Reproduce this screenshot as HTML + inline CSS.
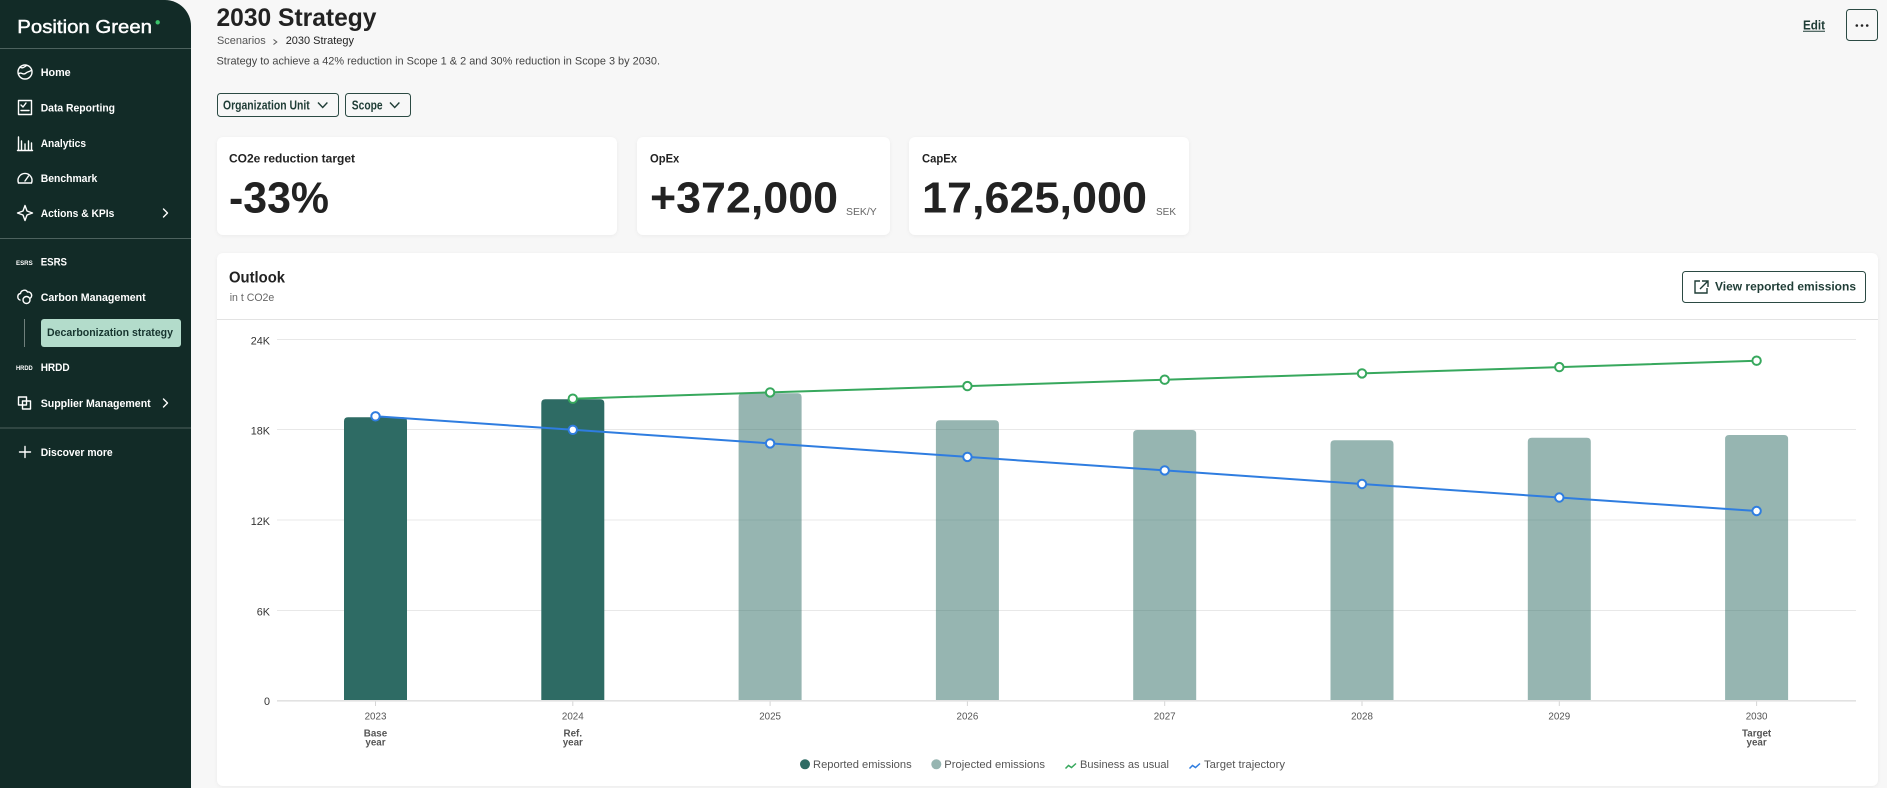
<!DOCTYPE html>
<html><head><meta charset="utf-8">
<style>
html,body{margin:0;padding:0;}
body{width:1887px;height:788px;overflow:hidden;background:#f7f7f7;position:relative;font-family:"Liberation Sans",Arial,sans-serif;}
.sb{position:absolute;left:0;top:0;width:191px;height:788px;background:#122b27;border-top-right-radius:26px;}
.card{position:absolute;background:#fff;border-radius:6px;box-shadow:0 1px 4px rgba(0,0,0,0.05);}
svg{position:absolute;left:0;top:0;}
text{font-family:"Liberation Sans",Arial,sans-serif;}
</style></head>
<body>
<div class="sb"></div>
<div class="card" style="left:217px;top:137px;width:400px;height:98px"></div>
<div class="card" style="left:637px;top:137px;width:253px;height:98px"></div>
<div class="card" style="left:909px;top:137px;width:280px;height:98px"></div>
<div class="card" style="left:217px;top:253px;width:1661px;height:533px"></div>

<svg width="1887" height="788" viewBox="0 0 1887 788" xmlns="http://www.w3.org/2000/svg">
<!-- ===== Sidebar ===== -->
<text x="17.3" y="33" font-size="18.5" fill="#fff" stroke="#fff" stroke-width="0.45" textLength="134.7" lengthAdjust="spacingAndGlyphs">Position Green</text>
<circle cx="157.7" cy="22.3" r="2.2" fill="#3cc36b"/>
<line x1="0" y1="48.5" x2="191" y2="48.5" stroke="#4d625e" stroke-width="1"/>
<line x1="0" y1="238.5" x2="191" y2="238.5" stroke="#4d625e" stroke-width="1"/>
<line x1="0" y1="428" x2="191" y2="428" stroke="#4d625e" stroke-width="1"/>

<g fill="none" stroke="#fff" stroke-width="1.4" stroke-linecap="round" stroke-linejoin="round">
  <!-- home globe -->
  <circle cx="25" cy="72" r="7"/>
  <path d="M18.5,74 C21,71 23,76 26,73 C28,71 30,72 31.5,70"/>
  <path d="M20,67 C22,69 24,67 26,66"/>
  <!-- data reporting -->
  <rect x="18.5" y="100.5" width="13" height="14"/>
  <path d="M21,105 L23,107 L26,103"/>
  <path d="M21,110.5 H29"/>
  <!-- analytics -->
  <path d="M18.5,137 V150 M21.5,141 V150 M25,144 V150 M28.5,141 V150 M31.5,143 V150 M17.5,150.5 H32.5"/>
  <!-- benchmark gauge -->
  <path d="M18.5,183 A7,7 0 1 1 31.5,183"/>
  <path d="M18.5,183 H31.5"/>
  <path d="M25,181 L28.5,176"/>
  <!-- actions star -->
  <path d="M25,205.5 L27,211 L32.5,213 L27,215 L25,220.5 L23,215 L17.5,213 L23,211 Z"/>
  <!-- carbon cloud -->
  <path d="M20,300 C17,299 17,294 20.5,293.5 C21,290 26,289 27.5,292 C31,291.5 33,295.5 30.5,298"/>
  <circle cx="26.5" cy="300" r="3.5"/>
  <!-- supplier squares -->
  <rect x="18.5" y="397" width="8" height="8"/>
  <rect x="22.5" y="401" width="8" height="8"/>
  <!-- discover plus -->
  <path d="M25,446.5 V457.5 M19.5,452 H30.5"/>
  <!-- chevrons -->
  <path d="M163.5,209 L167.5,213 L163.5,217"/>
  <path d="M163.5,399 L167.5,403 L163.5,407"/>
</g>
<text x="16" y="265" font-size="6.5" font-weight="bold" fill="#fff" textLength="16.7" lengthAdjust="spacingAndGlyphs">ESRS</text>
<text x="16" y="370" font-size="6.5" font-weight="bold" fill="#fff" textLength="16.7" lengthAdjust="spacingAndGlyphs">HRDD</text>

<g font-size="11.2" font-weight="bold" fill="#fff">
  <text x="40.7" y="76" textLength="30" lengthAdjust="spacingAndGlyphs">Home</text>
  <text x="40.7" y="111.3" textLength="74.3" lengthAdjust="spacingAndGlyphs">Data Reporting</text>
  <text x="40.7" y="146.8" textLength="45.3" lengthAdjust="spacingAndGlyphs">Analytics</text>
  <text x="40.7" y="182" textLength="56.6" lengthAdjust="spacingAndGlyphs">Benchmark</text>
  <text x="40.7" y="217" textLength="73.6" lengthAdjust="spacingAndGlyphs">Actions &amp; KPIs</text>
  <text x="40.7" y="265.7" textLength="26.3" lengthAdjust="spacingAndGlyphs">ESRS</text>
  <text x="40.7" y="301" textLength="105" lengthAdjust="spacingAndGlyphs">Carbon Management</text>
  <text x="40.7" y="371" textLength="29" lengthAdjust="spacingAndGlyphs">HRDD</text>
  <text x="40.7" y="407" textLength="110" lengthAdjust="spacingAndGlyphs">Supplier Management</text>
  <text x="40.7" y="456" textLength="72" lengthAdjust="spacingAndGlyphs">Discover more</text>
</g>
<line x1="24.5" y1="319" x2="24.5" y2="347" stroke="#6f807c" stroke-width="1"/>
<rect x="41" y="319" width="140" height="28" rx="3" fill="#b3dccb"/>
<text x="47" y="336" font-size="11.2" font-weight="bold" fill="#17352f" textLength="126" lengthAdjust="spacingAndGlyphs">Decarbonization strategy</text>

<!-- ===== Header ===== -->
<text x="216.5" y="26" font-size="25" font-weight="bold" fill="#222" textLength="160" lengthAdjust="spacingAndGlyphs">2030 Strategy</text>
<text x="217" y="44" font-size="11" fill="#555" textLength="48.7" lengthAdjust="spacingAndGlyphs">Scenarios</text>
<path d="M273.5,39.5 L276.8,42 L273.5,44.5" fill="none" stroke="#555" stroke-width="1"/>
<text x="285.7" y="44" font-size="11" fill="#222" textLength="68.3" lengthAdjust="spacingAndGlyphs">2030 Strategy</text>
<text x="216.5" y="64.3" font-size="11" fill="#444" textLength="443.5" lengthAdjust="spacingAndGlyphs">Strategy to achieve a 42% reduction in Scope 1 &amp; 2 and 30% reduction in Scope 3 by 2030.</text>

<text x="1803" y="29.3" font-size="12.5" font-weight="bold" fill="#1f3d36" textLength="22" lengthAdjust="spacingAndGlyphs">Edit</text>
<line x1="1803" y1="31.3" x2="1825" y2="31.3" stroke="#1f3d36" stroke-width="1"/>
<rect x="1846.5" y="9.5" width="31" height="31" rx="3" fill="none" stroke="#2b4a43" stroke-width="1"/>
<circle cx="1856.8" cy="25.5" r="1.3" fill="#222"/>
<circle cx="1862" cy="25.5" r="1.3" fill="#222"/>
<circle cx="1867.2" cy="25.5" r="1.3" fill="#222"/>

<!-- filters -->
<rect x="217.5" y="93.5" width="121" height="23" rx="3" fill="none" stroke="#2b4a43" stroke-width="1"/>
<text x="223" y="109.5" font-size="12.5" font-weight="bold" fill="#1f3d36" textLength="86.7" lengthAdjust="spacingAndGlyphs">Organization Unit</text>
<path d="M318,102.5 L322.7,107.5 L327.4,102.5" fill="none" stroke="#1f3d36" stroke-width="1.4"/>
<rect x="345.5" y="93.5" width="65" height="23" rx="3" fill="none" stroke="#2b4a43" stroke-width="1"/>
<text x="351.8" y="109.5" font-size="12.5" font-weight="bold" fill="#1f3d36" textLength="30.8" lengthAdjust="spacingAndGlyphs">Scope</text>
<path d="M390,102.5 L394.7,107.5 L399.4,102.5" fill="none" stroke="#1f3d36" stroke-width="1.4"/>

<!-- KPI cards -->
<text x="229" y="162.7" font-size="12" font-weight="bold" fill="#222" textLength="126" lengthAdjust="spacingAndGlyphs">CO2e reduction target</text>
<text x="229" y="212.7" font-size="44" font-weight="bold" fill="#222" textLength="100" lengthAdjust="spacingAndGlyphs">-33%</text>
<text x="650" y="162.7" font-size="12" font-weight="bold" fill="#222" textLength="29.3" lengthAdjust="spacingAndGlyphs">OpEx</text>
<text x="650" y="212.7" font-size="44" font-weight="bold" fill="#222" textLength="188" lengthAdjust="spacingAndGlyphs">+372,000</text>
<text x="846" y="215" font-size="10" fill="#666" textLength="30.7" lengthAdjust="spacingAndGlyphs">SEK/Y</text>
<text x="922" y="162.7" font-size="12" font-weight="bold" fill="#222" textLength="35" lengthAdjust="spacingAndGlyphs">CapEx</text>
<text x="922" y="212.7" font-size="44" font-weight="bold" fill="#222" textLength="225" lengthAdjust="spacingAndGlyphs">17,625,000</text>
<text x="1156" y="215" font-size="10" fill="#666" textLength="20" lengthAdjust="spacingAndGlyphs">SEK</text>

<!-- Outlook header -->
<text x="229" y="282.7" font-size="15.5" font-weight="bold" fill="#222" textLength="56" lengthAdjust="spacingAndGlyphs">Outlook</text>
<text x="229.7" y="301" font-size="11" fill="#666" textLength="44.6" lengthAdjust="spacingAndGlyphs">in t CO2e</text>
<line x1="217" y1="319.5" x2="1878" y2="319.5" stroke="#e3e3e3" stroke-width="1"/>
<rect x="1682.5" y="271.5" width="183" height="31" rx="3" fill="none" stroke="#2b4a43" stroke-width="1"/>
<path d="M1700,281 H1695 V293 H1707 V288 M1702,281 H1708 V287 M1708,281 L1700,289" fill="none" stroke="#1f3d36" stroke-width="1.4"/>
<text x="1715" y="290.5" font-size="12" font-weight="bold" fill="#1f3d36" textLength="141" lengthAdjust="spacingAndGlyphs">View reported emissions</text>

<!-- ===== Chart ===== -->
<g stroke="#e8e8e8" stroke-width="1">
  <line x1="277" y1="339.5" x2="1856" y2="339.5"/>
  <line x1="277" y1="429.5" x2="1856" y2="429.5"/>
  <line x1="277" y1="520" x2="1856" y2="520"/>
  <line x1="277" y1="610.5" x2="1856" y2="610.5"/>
</g>
<g font-size="10.8" fill="#333" text-anchor="end">
  <text x="270" y="344.5">24K</text>
  <text x="270" y="434.5">18K</text>
  <text x="270" y="525">12K</text>
  <text x="270" y="615.3">6K</text>
  <text x="270" y="705">0</text>
</g>

<!-- bars -->
<path d="M344,700 V421.3 Q344,417.3 348,417.3 H403 Q407,417.3 407,421.3 V700 Z" fill="#2e6b64"/>
<path d="M541.3,700 V403.3 Q541.3,399.3 545.3,399.3 H600.3 Q604.3,399.3 604.3,403.3 V700 Z" fill="#2e6b64"/>
<g fill="#2e6b64" fill-opacity="0.5">
  <path d="M738.6,700 V397.3 Q738.6,393.3 742.6,393.3 H797.6 Q801.6,393.3 801.6,397.3 V700 Z"/>
  <path d="M935.9,700 V424.3 Q935.9,420.3 939.9,420.3 H994.9 Q998.9,420.3 998.9,424.3 V700 Z"/>
  <path d="M1133.2,700 V434 Q1133.2,430 1137.2,430 H1192.2 Q1196.2,430 1196.2,434 V700 Z"/>
  <path d="M1330.5,700 V444.3 Q1330.5,440.3 1334.5,440.3 H1389.5 Q1393.5,440.3 1393.5,444.3 V700 Z"/>
  <path d="M1527.8,700 V441.7 Q1527.8,437.7 1531.8,437.7 H1586.8 Q1590.8,437.7 1590.8,441.7 V700 Z"/>
  <path d="M1725.1,700 V439 Q1725.1,435 1729.1,435 H1784.1 Q1788.1,435 1788.1,439 V700 Z"/>
</g>
<line x1="277" y1="700.8" x2="1856" y2="700.8" stroke="#e2e2e2" stroke-width="1.6"/>
<g stroke="#d6d6d6" stroke-width="1">
  <line x1="375.5" y1="701.5" x2="375.5" y2="706"/>
  <line x1="572.8" y1="701.5" x2="572.8" y2="706"/>
  <line x1="770.1" y1="701.5" x2="770.1" y2="706"/>
  <line x1="967.4" y1="701.5" x2="967.4" y2="706"/>
  <line x1="1164.7" y1="701.5" x2="1164.7" y2="706"/>
  <line x1="1362" y1="701.5" x2="1362" y2="706"/>
  <line x1="1559.3" y1="701.5" x2="1559.3" y2="706"/>
  <line x1="1756.6" y1="701.5" x2="1756.6" y2="706"/>
</g>

<!-- lines -->
<polyline fill="none" stroke="#37a85d" stroke-width="2" points="572.8,398.7 770.1,392.4 967.4,386.1 1164.7,379.7 1362,373.4 1559.3,367.1 1756.6,360.7"/>
<polyline fill="none" stroke="#2f7de0" stroke-width="2" points="375.5,416.3 572.8,429.8 770.1,443.4 967.4,456.9 1164.7,470.4 1362,484 1559.3,497.5 1756.6,511"/>
<g fill="#fff" stroke="#37a85d" stroke-width="2">
  <circle cx="572.8" cy="398.7" r="4.2"/>
  <circle cx="770.1" cy="392.4" r="4.2"/>
  <circle cx="967.4" cy="386.1" r="4.2"/>
  <circle cx="1164.7" cy="379.7" r="4.2"/>
  <circle cx="1362" cy="373.4" r="4.2"/>
  <circle cx="1559.3" cy="367.1" r="4.2"/>
  <circle cx="1756.6" cy="360.7" r="4.2"/>
</g>
<g fill="#fff" stroke="#2f7de0" stroke-width="2">
  <circle cx="375.5" cy="416.3" r="4.2"/>
  <circle cx="572.8" cy="429.8" r="4.2"/>
  <circle cx="770.1" cy="443.4" r="4.2"/>
  <circle cx="967.4" cy="456.9" r="4.2"/>
  <circle cx="1164.7" cy="470.4" r="4.2"/>
  <circle cx="1362" cy="484" r="4.2"/>
  <circle cx="1559.3" cy="497.5" r="4.2"/>
  <circle cx="1756.6" cy="511" r="4.2"/>
</g>

<!-- x labels -->
<g font-size="9.8" fill="#555" text-anchor="middle">
  <text x="375.5" y="719.7">2023</text>
  <text x="572.8" y="719.7">2024</text>
  <text x="770.1" y="719.7">2025</text>
  <text x="967.4" y="719.7">2026</text>
  <text x="1164.7" y="719.7">2027</text>
  <text x="1362" y="719.7">2028</text>
  <text x="1559.3" y="719.7">2029</text>
  <text x="1756.6" y="719.7">2030</text>
</g>
<g font-size="9.8" font-weight="bold" fill="#555" text-anchor="middle">
  <text x="375.5" y="736.7">Base</text>
  <text x="375.5" y="745.7">year</text>
  <text x="572.8" y="736.7">Ref.</text>
  <text x="572.8" y="745.7">year</text>
  <text x="1756.6" y="736.7">Target</text>
  <text x="1756.6" y="745.7">year</text>
</g>

<!-- legend -->
<circle cx="805" cy="764.3" r="5" fill="#2e6b64"/>
<text x="813" y="768" font-size="11" fill="#555" textLength="98.7" lengthAdjust="spacingAndGlyphs">Reported emissions</text>
<circle cx="936.3" cy="764.3" r="5" fill="#96b5b1"/>
<text x="944.3" y="768" font-size="11" fill="#555" textLength="100.7" lengthAdjust="spacingAndGlyphs">Projected emissions</text>
<path d="M1065.5,768.5 L1068.5,765.5 L1071.5,767.5 L1076,763.5" fill="none" stroke="#37a85d" stroke-width="1.5"/>
<text x="1080" y="768" font-size="11" fill="#555" textLength="89" lengthAdjust="spacingAndGlyphs">Business as usual</text>
<path d="M1189.5,768.5 L1192.5,765.5 L1195.5,767.5 L1200,763.5" fill="none" stroke="#2f7de0" stroke-width="1.5"/>
<text x="1204" y="768" font-size="11" fill="#555" textLength="81" lengthAdjust="spacingAndGlyphs">Target trajectory</text>
</svg>
</body></html>
